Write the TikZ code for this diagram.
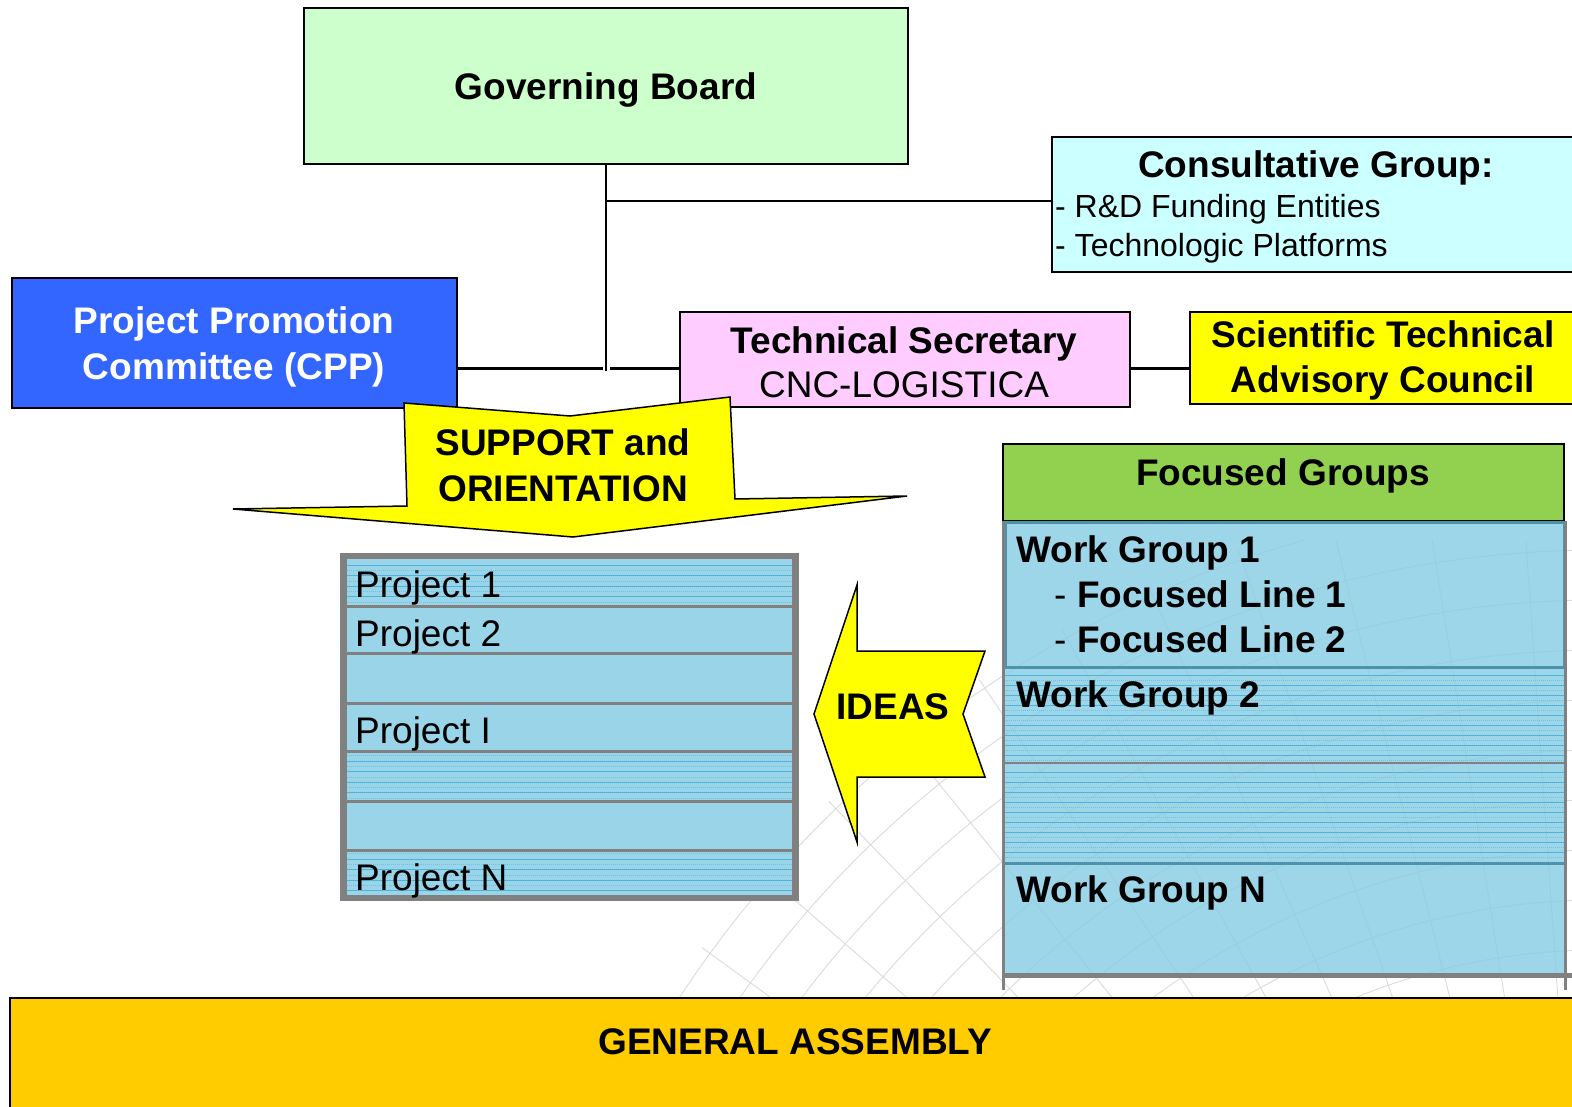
\documentclass[tikz,border=0pt]{standalone}
\usepackage{fontspec}
\setmainfont{Liberation Sans}
\definecolor{gbgreen}{HTML}{CCFFCC}
\definecolor{cgcyan}{HTML}{CCFFFF}
\definecolor{ppcblue}{HTML}{3366FF}
\definecolor{tspink}{HTML}{FFCCFF}
\definecolor{styellow}{HTML}{FFFF00}
\definecolor{fggreen}{HTML}{92D050}
\definecolor{projblue}{HTML}{99D4E8}
\definecolor{wgblue}{HTML}{88CDE3}
\definecolor{stripeblue}{HTML}{4FB3D9}
\definecolor{framegray}{HTML}{808080}
\definecolor{wgteal}{HTML}{4E93AD}
\definecolor{gacol}{HTML}{FFCC00}
\newcommand\ftB{\fontsize{37}{44}\selectfont\bfseries}
\newcommand\ftR{\fontsize{37}{44}\selectfont}
\newcommand\ftS{\fontsize{32}{38}\selectfont}
\begin{document}
\begin{tikzpicture}[x=1pt,y=-1pt,
  box/.style={draw=black, line width=1.5pt, inner sep=0pt, outer sep=0pt, anchor=north west},
  btxt/.style={inner sep=0pt, font=\ftB},
  rtxt/.style={inner sep=0pt, font=\ftR},
  stxt/.style={inner sep=0pt, font=\ftS},
  link/.style={draw=black, line width=2pt},
  rowbox/.style={fill=projblue, inner sep=0pt, outer sep=0pt, anchor=north west, minimum width=445pt},
  pstripe/.style={draw=stripeblue, line width=0.8pt},
  pfaint/.style={draw=stripeblue!55!projblue, line width=0.5pt, dash pattern=on 1pt off 1pt},
  globe/.style={draw=black!14, line width=0.9pt},
  wgrow/.style={fill=wgblue, fill opacity=0.82, inner sep=0pt, outer sep=0pt, anchor=north west, minimum width=559pt},
  framegr/.style={draw=framegray, line width=3pt},
  yarrow/.style={fill=styellow, draw=black, line width=1.5pt, line join=miter},
]
\useasboundingbox (0,0) rectangle (1572,1107);
\fill[white] (0,0) rectangle (1572,1107);

% faint globe in the background
\begin{scope}
  \clip (640,540) rectangle (1572,997);
  \clip (1600,1600) circle (1110);
  \foreach \r in {500,550,...,1110} \draw[globe] (1600,1600) circle (\r);
  \foreach \a in {176,181,...,272} \draw[globe] (1600,1600) -- ++(\a:1200);
\end{scope}

% top boxes
\node[box, fill=gbgreen, minimum width=604pt, minimum height=156pt] (gb) at (304,8) {};
\node[box, fill=cgcyan, minimum width=540pt, minimum height=135pt] (cg) at (1052,137) {};
\node[box, fill=ppcblue, minimum width=445pt, minimum height=130pt] (ppc) at (12,278) {};
\node[box, fill=tspink, minimum width=450pt, minimum height=95pt] (ts) at (680,312) {};
\node[box, fill=styellow, minimum width=400pt, minimum height=92pt] (stac) at (1190,312) {};

% connectors
\coordinate (hy) at (0,368);
\coordinate (ty) at (0,201);
\coordinate (vend) at (606,371);
\coordinate (gapL) at (603,368);
\coordinate (gapR) at (610,368);
\draw[link, line width=1.6pt] (gb.south) -- (vend);
\draw[link, line width=1.8pt] (gb.south |- ty) -- (cg.west |- ty);
\draw[link, line width=3pt] (ppc.east |- hy) -- (gapL);
\draw[link, line width=3pt] (gapR) -- (ts.west |- hy);
\draw[link, line width=3pt] (ts.east |- hy) -- (stac.west |- hy);

% texts of top boxes
\node[btxt, anchor=base] (gbt) at (606,100) {Governing Board};
\node[btxt, anchor=base] (cgt) at (1316,178) {Consultative Group:};
\node[stxt, anchor=base west] (cg1) at (1055,218) {- R\&D Funding Entities};
\node[stxt, anchor=base west] (cg2) at (1055,257) {- Technologic Platforms};
\node[btxt, text=white, anchor=base] (ppc1) at (234,334) {Project Promotion};
\node[btxt, text=white, anchor=base] (ppc2) at (234,379) {Committee (CPP)};
\node[btxt, anchor=base] (ts1) at (904,353) {Technical Secretary};
\node[rtxt, anchor=base] (ts2) at (904,397) {CNC-LOGISTICA};
\node[btxt, anchor=base] (st1) at (1383,348) {Scientific Technical};
\node[btxt, anchor=base] (st2) at (1383,392) {Advisory Council};

% support arrow
\draw[yarrow] (404,403) -- (570,416) -- (730,397) -- (735,499) -- (907,496) -- (573,537) -- (233,509) -- (407,506) -- cycle;
\node[btxt, anchor=base] (sup1) at (563,455) {SUPPORT and};
\node[btxt, anchor=base] (sup2) at (563,501) {ORIENTATION};

% projects
\node[fill=framegray, inner sep=0pt, outer sep=0pt, anchor=north west, minimum width=459pt, minimum height=348pt] (pf) at (340,553) {};
\node[rowbox, minimum height=45.5pt] (r1) at (347,559) {};
\node[rowbox, minimum height=44pt] (r2) at (347,607.5) {};
\node[rowbox, minimum height=47pt] (r3) at (347,654.5) {};
\node[rowbox, minimum height=45pt] (r4) at (347,704.5) {};
\node[rowbox, minimum height=47pt] (r5) at (347,752.5) {};
\node[rowbox, minimum height=46pt] (r6) at (347,802.5) {};
\node[rowbox, minimum height=43.5pt] (r7) at (347,851.5) {};
\foreach \y in {565,575.6,586.2,596.8} \draw[pstripe] (347,\y) -- (792,\y);
\foreach \y in {570.3,580.9,591.5,602} \draw[pfaint] (347,\y) -- (792,\y);
\foreach \y in {761,771.6,782.2,792.8} \draw[pstripe] (347,\y) -- (792,\y);
\foreach \y in {755.7,766.3,776.9,787.5,798} \draw[pfaint] (347,\y) -- (792,\y);
\foreach \y in {859,869.6,880.2,890.8} \draw[pstripe] (347,\y) -- (792,\y);
\foreach \y in {853.7,864.3,874.9,885.5} \draw[pfaint] (347,\y) -- (792,\y);
\node[rtxt, anchor=base west] (p1) at (355,597) {Project 1};
\node[rtxt, anchor=base west] (p2) at (355,646) {Project 2};
\node[rtxt, anchor=base west] (pi) at (355,743) {Project I};
\node[rtxt, anchor=base west] (pn) at (355,890) {Project N};

% ideas arrow
\draw[yarrow] (814,714) -- (857,585) -- (857,651) -- (985,651) -- (963,714) -- (985,777) -- (857,777) -- (857,842) -- cycle;
\node[btxt, anchor=base] (ideas) at (893,719) {IDEAS};

% focused groups
\node[box, fill=fggreen, minimum width=561pt, minimum height=77pt] (fg) at (1003,444) {};
\node[btxt, anchor=base] (fgt) at (1283,485) {Focused Groups};
\node[wgrow, minimum height=145pt] (wg1) at (1005,522) {};
\node[wgrow, minimum height=96pt] (wg2) at (1005,667) {};
\node[wgrow, minimum height=100pt] (wg3) at (1005,763) {};
\node[wgrow, minimum height=110pt] (wgn) at (1005,863) {};
\foreach \y in {675,685,...,755} \draw[pstripe, line width=0.6pt] (1005,\y) -- (1564,\y);
\foreach \y in {680,690,...,760} \draw[pfaint] (1005,\y) -- (1564,\y);
\foreach \y in {772,782,...,852} \draw[pstripe, line width=0.6pt] (1005,\y) -- (1564,\y);
\foreach \y in {777,787,...,857} \draw[pfaint] (1005,\y) -- (1564,\y);
\draw[draw=wgteal, line width=3pt] (wg1.north west) rectangle (wg1.south east);
\draw[draw=framegray, line width=2.5pt] (wg2.south west) -- (wg2.south east);
\draw[draw=wgteal, line width=3pt] (wgn.north west) -- (wgn.north east);
\draw[framegr] (1003.5,521) -- (1003.5,990);
\draw[framegr] (1565,521) -- (1565,990);
\draw[draw=framegray, line width=5pt] (1002,975) -- (1572,975);
\node[btxt, anchor=base west] (wg1t) at (1016,562) {Work Group 1};
\node[rtxt, anchor=base west] (d1) at (1054,607) {-};
\node[btxt, anchor=base west] (fl1) at (1077,607) {Focused Line 1};
\node[rtxt, anchor=base west] (d2) at (1054,652) {-};
\node[btxt, anchor=base west] (fl2) at (1077,652) {Focused Line 2};
\node[btxt, anchor=base west] (wg2t) at (1016,707) {Work Group 2};
\node[btxt, anchor=base west] (wgnt) at (1016,902) {Work Group N};

% general assembly
\node[box, fill=gacol, line width=2pt, minimum width=1580pt, minimum height=120pt] (ga) at (10,998) {};
\node[btxt, anchor=base] (gat) at (795,1054) {GENERAL ASSEMBLY};
\end{tikzpicture}
\end{document}
